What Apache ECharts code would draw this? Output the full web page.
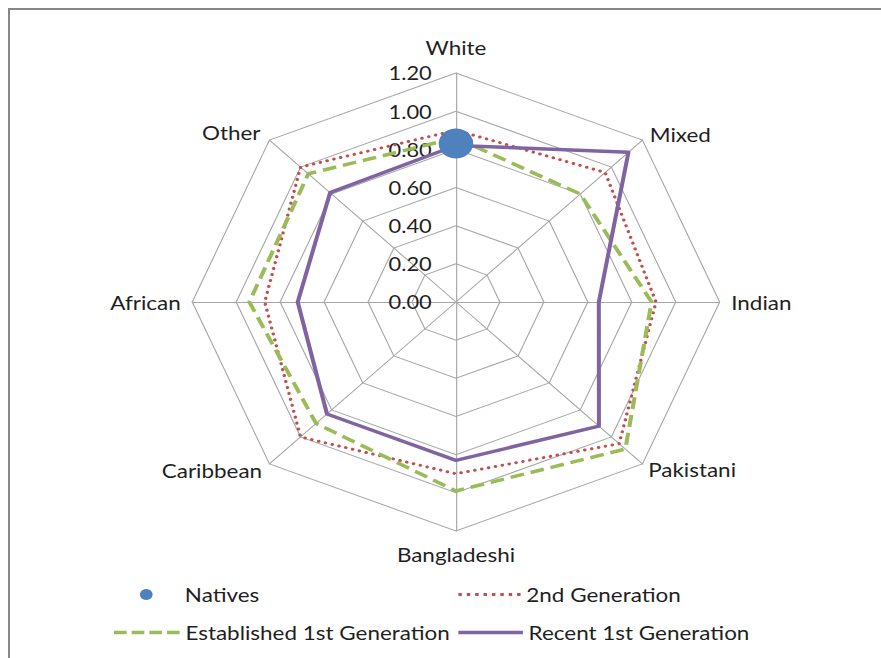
<!DOCTYPE html>
<html>
<head>
<meta charset="utf-8">
<script src="https://cdn.jsdelivr.net/npm/echarts@6/dist/echarts.min.js"></script>
<style>
  html, body { margin: 0; padding: 0; background: #fff; overflow: hidden; }
  #wrap { position: relative; width: 881px; height: 658px; overflow: hidden; }
  #frame { position: absolute; left: 8px; top: 8px; width: 1000px; height: 1000px;
           border: 2px solid #878787; box-sizing: border-box; }
  /* The chart is laid out in a narrower box and widened horizontally */
  #chart { position: absolute; left: 0; top: 0; width: 765px; height: 658px;
           transform: scaleX(1.1517); transform-origin: 0 0; }
</style>
</head>
<body>
<div id="wrap">
  <div id="frame"></div>
  <div id="chart"></div>
</div>
<script>
// Categories, clockwise from the top
const categories = ['White', 'Mixed', 'Indian', 'Pakistani', 'Bangladeshi', 'Caribbean', 'African', 'Other'];

// Series values, same order as categories (natives only has a White value)
const natives = [0.83, null, null, null, null, null, null, null];
const secondGeneration = [0.90, 0.96, 0.91, 1.05, 0.90, 1.00, 0.87, 1.00];
const establishedFirst = [0.86, 0.80, 0.89, 1.09, 0.99, 0.90, 0.94, 0.95];
const recentFirst = [0.82, 1.11, 0.65, 0.92, 0.83, 0.83, 0.72, 0.81];

// Radial axis ticks
const axisMin = 0;
const axisMax = 1.2;
const axisStep = 0.2;

// Gap between the outer ring and each category name
const nameGaps = [16, 9, 10, 7, 13, 9, 10, 11];

const FONT = 'Lato';
const TEXT = '#1f1f1f';
const CENTER = [395.9, 302];
const RADIUS = 229;

// ECharts lays radar indicators out counter-clockwise; reorder to run clockwise
const order = [0].concat(categories.map((_, i) => i).slice(1).reverse());
const reorder = arr => order.map(i => arr[i]);

const indicator = order.map((i, k) => {
  const ind = { name: categories[i], min: axisMin, max: axisMax, nameGap: nameGaps[i] };
  if (k === 0) {
    ind.axisLabel = {
      show: true,
      fontFamily: FONT,
      fontSize: 19,
      color: TEXT,
      margin: 21,
      formatter: v => Number(v).toFixed(2)
    };
  }
  return ind;
});

// Natives points as [radius, category] pairs for the polar scatter
const nativesPoints = categories
  .map((c, i) => (natives[i] == null ? null : [natives[i], c]))
  .filter(p => p !== null);

// Legend icon paths: row of dashes / dots
function dashPath(count, len, gap, h) {
  let p = 'path://';
  for (let i = 0; i < count; i++) {
    const x = i * (len + gap);
    p += 'M' + x + ' 0h' + len + 'v' + h + 'h-' + len + 'z';
  }
  return p;
}

const colors = {
  natives: '#4f81bd',
  second: '#c0504d',
  established: '#9bbb59',
  recent: '#8064a2'
};

function legendAt(name, left, top, icon, w, h, color) {
  return {
    left: left, top: top, padding: 0,
    itemWidth: w, itemHeight: h,
    selectedMode: false,
    data: [{ name: name, icon: icon, itemStyle: { color: color, borderWidth: 0 } }],
    textStyle: { fontFamily: FONT, fontSize: 19.5, color: TEXT, lineHeight: 20 }
  };
}

const option = {
  animation: false,
  legend: [
    legendAt('Natives', 121.5, 584.5, 'circle', 57, 11, colors.natives),
    legendAt('2nd Generation', 398, 584.5, dashPath(8, 3, 4.29, 3), 54, 3, colors.second),
    legendAt('Established 1st Generation', 99, 622.5, dashPath(4, 11, 4.33, 3.5), 57, 3.5, colors.established),
    legendAt('Recent 1st Generation', 398, 622.5, 'rect', 56, 3.5, colors.recent)
  ],
  radar: {
    center: CENTER,
    radius: RADIUS,
    startAngle: 90,
    splitNumber: Math.round((axisMax - axisMin) / axisStep),
    shape: 'polygon',
    indicator: indicator,
    axisName: { fontFamily: FONT, fontSize: 19.5, color: TEXT },
    axisLine: { lineStyle: { color: '#a6a6a6', width: 1 } },
    splitLine: { lineStyle: { color: '#a6a6a6', width: 1 } },
    splitArea: { show: false },
    axisTick: { show: false },
    axisLabel: { show: false }
  },
  // Polar system sharing the radar's centre and scale, used for the Natives marker
  polar: { center: CENTER, radius: RADIUS },
  angleAxis: {
    type: 'category', data: categories, startAngle: 90, clockwise: true,
    boundaryGap: false, show: false
  },
  radiusAxis: { min: axisMin, max: axisMax, show: false },
  series: [
    {
      name: '2nd Generation', type: 'radar', symbol: 'none',
      itemStyle: { color: colors.second },
      lineStyle: { color: colors.second, width: 3, type: [0.1, 6], cap: 'round' },
      data: [{ name: '2nd Generation', value: reorder(secondGeneration) }]
    },
    {
      name: 'Established 1st Generation', type: 'radar', symbol: 'none',
      itemStyle: { color: colors.established },
      lineStyle: { color: colors.established, width: 3.5, type: [12, 6] },
      data: [{ name: 'Established 1st Generation', value: reorder(establishedFirst) }]
    },
    {
      name: 'Recent 1st Generation', type: 'radar', symbol: 'none',
      itemStyle: { color: colors.recent },
      lineStyle: { color: colors.recent, width: 3.5, type: 'solid' },
      data: [{ name: 'Recent 1st Generation', value: reorder(recentFirst) }]
    },
    {
      name: 'Natives', type: 'scatter', coordinateSystem: 'polar',
      symbol: 'circle', symbolSize: 30, z: 5,
      itemStyle: { color: colors.natives, opacity: 1 },
      data: nativesPoints
    }
  ]
};

const chart = echarts.init(document.getElementById('chart'), null, { renderer: 'svg' });
chart.setOption(option);
</script>
</body>
</html>
